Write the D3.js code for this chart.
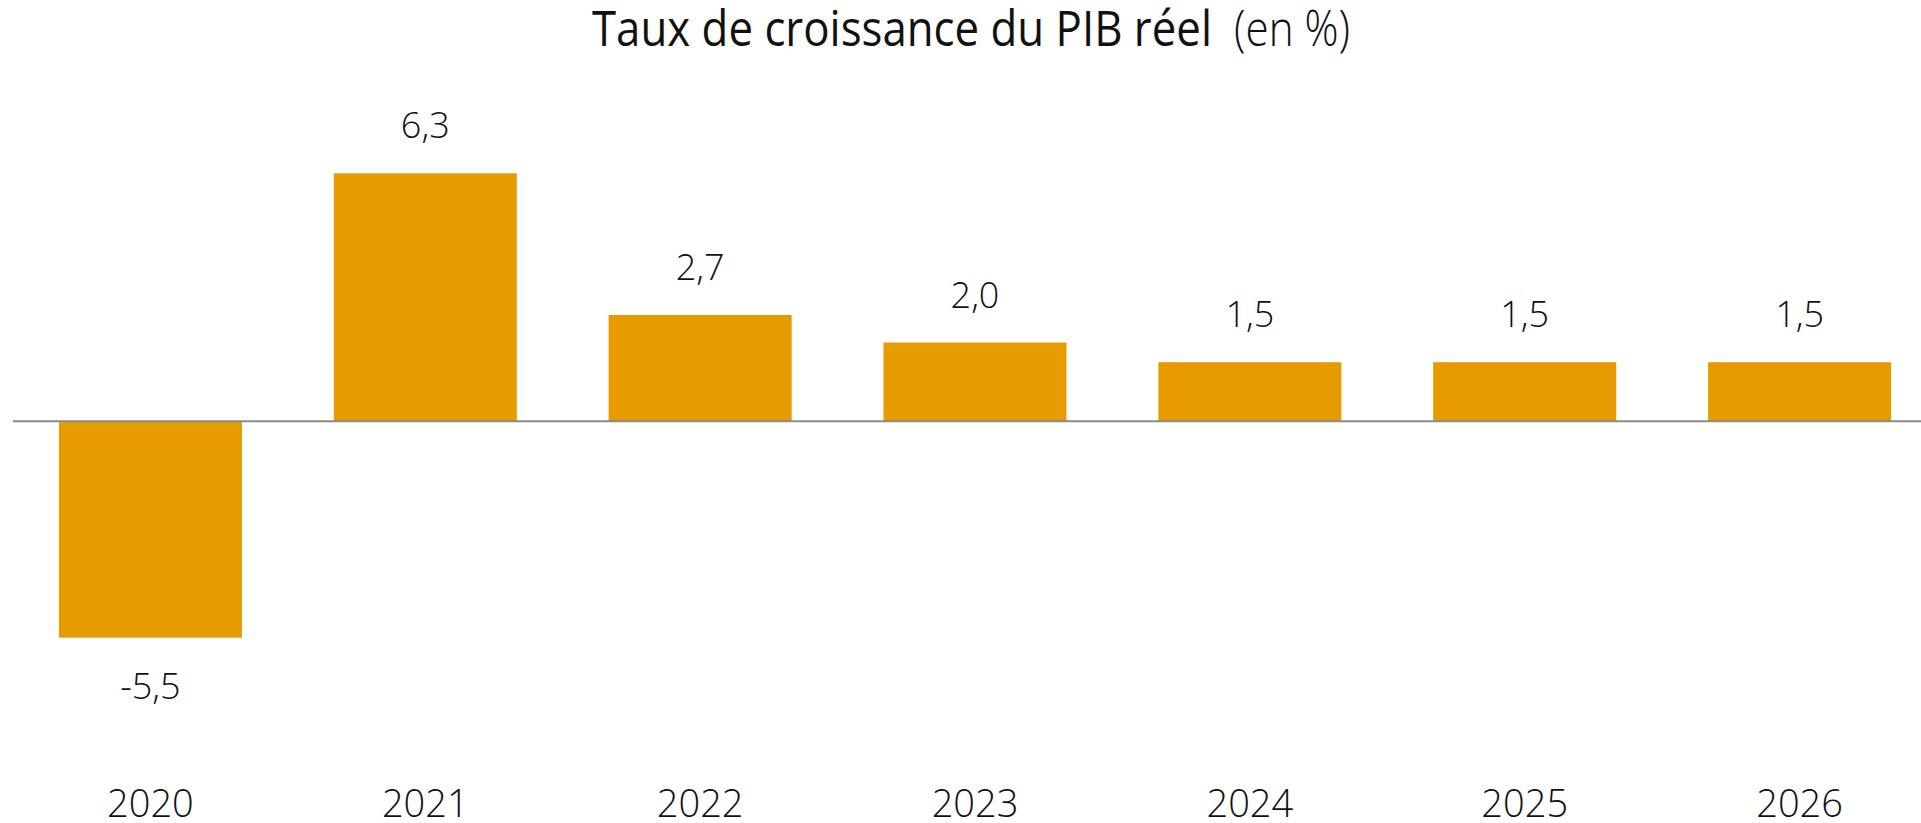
<!DOCTYPE html>
<html>
<head>
<meta charset="utf-8">
<script src="https://cdn.jsdelivr.net/npm/d3@7"></script>
<style>
  html, body { margin: 0; padding: 0; background: #fff; }
  svg { display: block; }
  text { font-family: 'Open Sans', 'Noto Sans', sans-serif; fill: #111; }
</style>
</head>
<body>
<div id="main"></div>
<script>
const w = 1921, h = 823

const years = ['2020', '2021', '2022', '2023', '2024', '2025', '2026']
const growth = [-5.5, 6.3, 2.7, 2.0, 1.5, 1.5, 1.5]
const titleMain = 'Taux de croissance du PIB réel'
const titleUnit = '(en %)'

const barColor = '#e69c00'

const svg = d3.select('#main')
            .append('svg')
            .attr('width', w)
            .attr('height', h)

const xScale = d3.scaleBand()
                .domain(years)
                .range([13, 1937])
                .paddingInner(0.334)
                .paddingOuter(0.167)

const yScale = d3.scaleLinear()
                .domain([-5.5, 6.3])
                .range([637.7, 173.3])

const fmt = v => v.toFixed(1).replace('.', ',')

// title parts squeezed horizontally to the reference widths
const addTitle = (str, x, width, weight) => {
    const t = svg.append('text')
                .text(str)
                .attr('style', 'font-size: 49px; font-weight: ' + weight)
    const natural = t.node().getComputedTextLength()
    t.attr('transform', 'translate(' + x + ',46) scale(' + (width / natural) + ',1)')
}
addTitle(titleMain, 592, 620, 500)
addTitle(titleUnit, 1234, 116, 300)

const data = years.map((y, i) => ({ year: y, value: growth[i] }))

svg.append('g')
    .attr('class', 'bars')
    .selectAll('rect')
    .data(data)
    .enter()
    .append('rect')
    .attr('x', d => xScale(d.year))
    .attr('width', xScale.bandwidth())
    .attr('y', d => yScale(Math.max(0, d.value)))
    .attr('height', d => Math.abs(yScale(d.value) - yScale(0)))
    .attr('fill', barColor)

svg.append('line')
    .attr('x1', 13)
    .attr('x2', w)
    .attr('y1', yScale(0))
    .attr('y2', yScale(0))
    .attr('stroke', '#8a8a8a')
    .attr('stroke-width', 1.8)

svg.append('g')
    .attr('class', 'values')
    .selectAll('text')
    .data(data)
    .enter()
    .append('text')
    .text(d => fmt(d.value))
    .attr('x', d => xScale(d.year) + xScale.bandwidth() / 2)
    .attr('y', d => d.value >= 0 ? yScale(d.value) - 35 : yScale(d.value) + 61)
    .attr('text-anchor', 'middle')
    .attr('style', 'font-size: 36px; font-weight: 300')

const xAxis = d3.axisBottom()
                .scale(xScale)
                .tickSize(0)
                .tickPadding(0)

const xLine = svg.append('g')
                .attr('id', 'x-axis')
                .attr('transform', 'translate(0,' + 790 + ')')
                .call(xAxis)

xLine.select('.domain').remove()
xLine.selectAll('text')
    .attr('dy', 0)
    .attr('y', 27)
    .attr('fill', '#111')
    .attr('style', "font-family: 'Open Sans', sans-serif; font-size: 38px; font-weight: 300")
</script>
</body>
</html>
